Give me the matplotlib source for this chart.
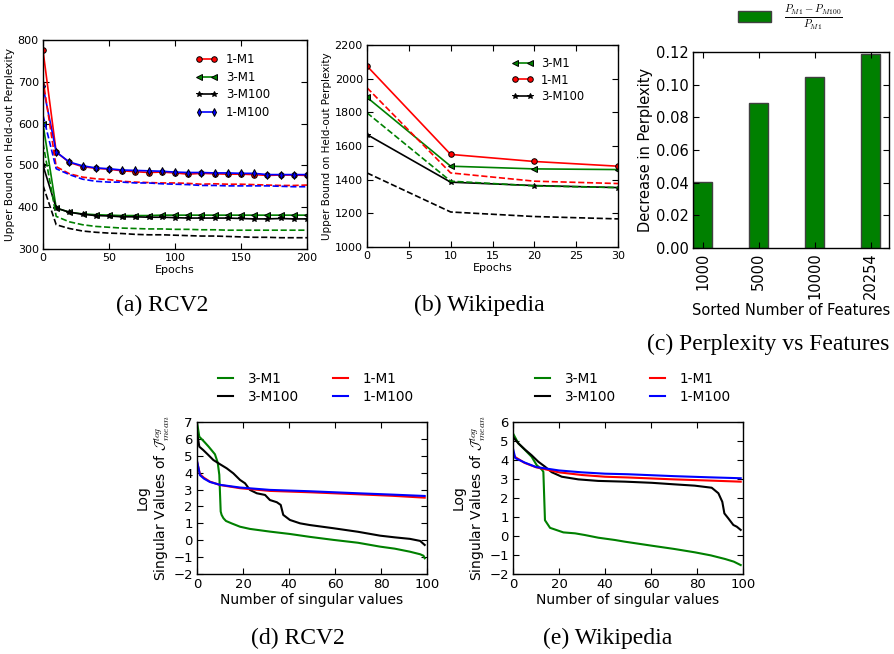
import matplotlib
matplotlib.use("Agg")
import matplotlib.pyplot as plt

# ---- data ----
# (a) RCV2 held-out perplexity vs epochs
rcv_epochs = [0, 10, 20, 30, 40, 50, 60, 70, 80, 90, 100, 110, 120, 130, 140, 150, 160, 170, 180, 190, 200]
rcv_1m1 = [775, 532, 507, 497, 493, 491, 487, 485, 483, 484, 482, 479, 481, 480, 479, 479, 478, 476, 477, 477, 476]
rcv_1m100 = [689, 532, 508, 499, 494, 492, 489, 488, 487, 486, 484, 483, 483, 482, 482, 481, 481, 478, 478, 478, 478]
rcv_3m1 = [599, 398, 388, 384, 382, 381, 380, 380, 380, 381, 381, 381, 381, 381, 381, 381, 381, 381, 381, 381, 381]
rcv_3m100 = [500, 398, 388, 383, 380, 379, 377, 377, 376, 376, 375, 374, 374, 374, 374, 373, 372, 372, 373, 372, 372]
rcv_1m1_d = [705, 497, 480, 472, 468, 466, 462, 460, 459, 458, 458, 457, 455, 456, 455, 455, 454, 453, 452, 452, 453]
rcv_1m100_d = [620, 492, 478, 467, 462, 460, 460, 458, 458, 456, 455, 454, 452, 452, 451, 451, 451, 451, 450, 449, 449]
rcv_3m1_d = [553, 378, 365, 358, 354, 352, 350, 349, 348, 348, 347, 347, 346, 346, 345, 345, 345, 345, 345, 345, 345]
rcv_3m100_d = [452, 358, 349, 343, 340, 338, 337, 335, 334, 334, 333, 332, 331, 331, 330, 329, 328, 328, 327, 327, 327]

# (b) Wikipedia held-out perplexity vs epochs
wiki_epochs = [0, 10, 20, 30]
wiki_3m1 = [1889, 1480, 1464, 1460]
wiki_1m1 = [2075, 1550, 1508, 1480]
wiki_3m100 = [1668, 1385, 1365, 1353]
wiki_3m1_d = [1797, 1391, 1363, 1353]
wiki_1m1_d = [1946, 1440, 1391, 1377]
wiki_3m100_d = [1440, 1208, 1181, 1167]

# (c) perplexity decrease vs number of features
feat_labels = ["1000", "5000", "10000", "20254"]
feat_decrease = [0.0405, 0.089, 0.1045, 0.119]

# (d) RCV2 log singular values
d_3m1_x = [0, 1, 3, 5, 7.8, 9, 9.7, 10.3, 10.7, 11.5, 12.6, 15, 18.7, 23, 31.7, 40.4, 49, 59.3, 70, 79.6, 86, 92.6, 97, 98.5, 99]
d_3m1_y = [7.0, 6.13, 5.85, 5.55, 5.09, 4.6, 3.87, 1.7, 1.5, 1.3, 1.14, 1.0, 0.8, 0.67, 0.51, 0.37, 0.2, 0.02, -0.15, -0.38, -0.5, -0.68, -0.83, -0.92, -1.07]
d_3m100_x = [0, 1, 2.7, 4.9, 7.1, 10, 12.9, 15.8, 18.7, 20.9, 23, 26, 29.6, 31.7, 34.7, 36.4, 37.5, 40.4, 44.8, 49, 59.3, 70, 79.6, 86, 92.6, 97, 99]
d_3m100_y = [6.4, 5.54, 5.34, 5.05, 4.75, 4.5, 4.26, 3.96, 3.57, 3.37, 2.98, 2.78, 2.68, 2.38, 2.25, 2.09, 1.5, 1.2, 1.0, 0.9, 0.71, 0.5, 0.27, 0.17, 0.08, -0.04, -0.28]
d_1m1_x = [0, 1.3, 3, 5.6, 10, 18.7, 31.7, 49, 70, 85, 99]
d_1m1_y = [4.65, 3.9, 3.7, 3.47, 3.27, 3.08, 2.92, 2.84, 2.72, 2.63, 2.52]
d_1m100_x = [0, 1.3, 3, 5.6, 10, 18.7, 31.7, 49, 70, 85, 99]
d_1m100_y = [4.7, 3.85, 3.65, 3.45, 3.28, 3.12, 2.98, 2.9, 2.78, 2.7, 2.62]

# (e) Wikipedia log singular values
e_3m1_x = [0, 2.3, 5.2, 8.1, 10.3, 12.5, 13.2, 13.9, 16.1, 19, 21.9, 27, 31.3, 37.1, 44.3, 48.7, 60.3, 70, 79.1, 86, 92.2, 96, 99]
e_3m1_y = [5.4, 4.88, 4.53, 4.17, 3.73, 3.5, 3.38, 0.83, 0.43, 0.31, 0.19, 0.14, 0.05, -0.09, -0.21, -0.3, -0.51, -0.68, -0.86, -1.02, -1.21, -1.35, -1.53]
e_3m100_x = [0, 2.3, 5.2, 8.1, 11, 13.9, 16.8, 21.2, 28.4, 37, 48.7, 60.3, 70, 79, 86.4, 89.3, 91, 91.9, 93.6, 95.8, 97.3, 99]
e_3m100_y = [5.21, 4.88, 4.55, 4.25, 3.91, 3.65, 3.36, 3.12, 2.98, 2.9, 2.86, 2.8, 2.72, 2.65, 2.54, 2.25, 1.8, 1.19, 0.93, 0.58, 0.49, 0.32]
e_1m1_x = [0, 1, 5, 10, 20, 30, 40, 50, 70, 85, 99]
e_1m1_y = [4.3, 4.15, 3.85, 3.62, 3.35, 3.21, 3.12, 3.08, 2.98, 2.92, 2.86]
e_1m100_x = [0, 1, 5, 10, 20, 30, 40, 50, 70, 85, 99]
e_1m100_y = [4.6, 4.1, 3.87, 3.63, 3.45, 3.35, 3.28, 3.25, 3.15, 3.09, 3.04]

# ---- old-matplotlib look ----
plt.rcParams["font.family"] = "DejaVu Sans"
plt.rcParams["mathtext.fontset"] = "cm"
plt.rcParams["xtick.direction"] = "in"
plt.rcParams["ytick.direction"] = "in"
plt.rcParams["xtick.top"] = True
plt.rcParams["ytick.right"] = True
plt.rcParams["xtick.major.size"] = 4
plt.rcParams["ytick.major.size"] = 4
plt.rcParams["xtick.major.pad"] = 3
plt.rcParams["ytick.major.pad"] = 3
plt.rcParams["axes.linewidth"] = 1.0
plt.rcParams["legend.numpoints"] = 2

W, H = 894, 654
fig = plt.figure(figsize=(W / 100, H / 100), dpi=100)


def box(l, t, r, b):
    return [l / W, 1 - b / H, (r - l) / W, (b - t) / H]


def figpt(x, y):
    return (x / W, 1 - y / H)


mk = dict(ms=4, mec="k", mew=0.7)

# (a) RCV2
ax1 = fig.add_axes(box(43, 40, 307, 249))
ax1.plot(rcv_epochs, rcv_1m1, "r-", marker="o", lw=1.2, label="1-M1", **mk)
ax1.plot(rcv_epochs, rcv_3m1, "g-", marker="<", lw=1.2, label="3-M1", **mk)
ax1.plot(rcv_epochs, rcv_3m100, "k-", marker="*", lw=1.2, label="3-M100", **mk)
ax1.plot(rcv_epochs, rcv_1m100, "b-", marker="d", lw=1.2, label="1-M100", **mk)
ax1.plot(rcv_epochs, rcv_1m1_d, "r--", lw=1.2)
ax1.plot(rcv_epochs, rcv_1m100_d, "b--", lw=1.2)
ax1.plot(rcv_epochs, rcv_3m1_d, "g--", lw=1.2)
ax1.plot(rcv_epochs, rcv_3m100_d, "k--", lw=1.2)
ax1.set_xlim(0, 200)
ax1.set_ylim(300, 800)
ax1.set_xticks([0, 50, 100, 150, 200])
ax1.tick_params(labelsize=8)
ax1.set_xlabel("Epochs", fontsize=8, labelpad=1)
ax1.set_ylabel("Upper Bound on Held-out Perplexity", fontsize=7.7, labelpad=2)
ax1.legend(loc="upper left", bbox_to_anchor=figpt(187, 45), bbox_transform=fig.transFigure,
           frameon=False, fontsize=8.5, handlelength=1.9, handletextpad=0.7,
           labelspacing=0.38, borderpad=0.2)

# (b) Wikipedia
ax2 = fig.add_axes(box(367, 45, 618, 247))
ax2.plot(wiki_epochs, wiki_3m1, "g-", marker="<", lw=1.2, label="3-M1", **mk)
ax2.plot(wiki_epochs, wiki_1m1, "r-", marker="o", lw=1.2, label="1-M1", **mk)
ax2.plot(wiki_epochs, wiki_3m100, "k-", marker="*", lw=1.2, label="3-M100", **mk)
ax2.plot(wiki_epochs, wiki_3m1_d, "g--", lw=1.2)
ax2.plot(wiki_epochs, wiki_1m1_d, "r--", lw=1.2)
ax2.plot(wiki_epochs, wiki_3m100_d, "k--", lw=1.2)
ax2.set_xlim(0, 30)
ax2.set_ylim(1000, 2200)
ax2.tick_params(labelsize=8)
ax2.set_xlabel("Epochs", fontsize=8, labelpad=1)
ax2.set_ylabel("Upper Bound on Held-out Perplexity", fontsize=7.5, labelpad=2)
ax2.legend(loc="upper left", bbox_to_anchor=figpt(503, 49), bbox_transform=fig.transFigure,
           frameon=False, fontsize=8.3, handlelength=1.9, handletextpad=0.7,
           labelspacing=0.3, borderpad=0.2)

# (c) perplexity vs features
ax3 = fig.add_axes(box(693, 52, 889, 248))
pos = list(range(len(feat_labels)))
ax3.bar(pos, feat_decrease, width=0.34, color=(0, 0.5, 0), edgecolor="0.25", lw=1,
        label=r"$\frac{P_{M1}-P_{M100}}{P_{M1}}$")
ax3.set_xticks(pos)
ax3.set_xticklabels(feat_labels, rotation=90)
ax3.set_xlim(-0.17, 3.33)
ax3.set_ylim(0, 0.12)
ax3.set_yticks([0, 0.02, 0.04, 0.06, 0.08, 0.10, 0.12])
ax3.set_yticklabels(["0.00", "0.02", "0.04", "0.06", "0.08", "0.10", "0.12"])
ax3.tick_params(labelsize=10.5)
ax3.set_xlabel("Sorted Number of Features", fontsize=10.5, labelpad=3)
ax3.set_ylabel("Decrease in Perplexity", fontsize=10.5, labelpad=2)
ax3.legend(loc="center", bbox_to_anchor=figpt(790, 18), bbox_transform=fig.transFigure,
           frameon=False, fontsize=11, handlelength=2.2, handleheight=0.7)

# (d) RCV2 singular values
ylab = "Log\nSingular Values of $\\mathcal{J}^{log}_{mean}$"
ax4 = fig.add_axes(box(197, 422, 427, 574))
ax4.plot(d_3m1_x, d_3m1_y, color="g", lw=1.5, label="3-M1")
ax4.plot(d_3m100_x, d_3m100_y, color="k", lw=1.5, label="3-M100")
ax4.plot(d_1m1_x, d_1m1_y, color="r", lw=1.5, label="1-M1")
ax4.plot(d_1m100_x, d_1m100_y, color="b", lw=1.5, label="1-M100")
ax4.set_xlim(0, 100)
ax4.set_ylim(-2, 7)
ax4.set_yticks(range(-2, 8))
ax4.tick_params(labelsize=9.5)
ax4.set_xlabel("Number of singular values", fontsize=10, labelpad=1)
ax4.set_ylabel(ylab, fontsize=10, labelpad=1)
ax4.legend(loc="center", bbox_to_anchor=figpt(314, 388), bbox_transform=fig.transFigure,
           ncol=2, frameon=False, fontsize=9.8, handlelength=1.7, columnspacing=2.2,
           labelspacing=0.3)

# (e) Wikipedia singular values
ax5 = fig.add_axes(box(513, 422, 743, 574))
ax5.plot(e_3m1_x, e_3m1_y, color="g", lw=1.5, label="3-M1")
ax5.plot(e_3m100_x, e_3m100_y, color="k", lw=1.5, label="3-M100")
ax5.plot(e_1m1_x, e_1m1_y, color="r", lw=1.5, label="1-M1")
ax5.plot(e_1m100_x, e_1m100_y, color="b", lw=1.5, label="1-M100")
ax5.set_xlim(0, 100)
ax5.set_ylim(-2, 6)
ax5.set_yticks(range(-2, 7))
ax5.tick_params(labelsize=9.5)
ax5.set_xlabel("Number of singular values", fontsize=10, labelpad=1)
ax5.set_ylabel(ylab, fontsize=10, labelpad=1)
ax5.legend(loc="center", bbox_to_anchor=figpt(631, 388), bbox_transform=fig.transFigure,
           ncol=2, frameon=False, fontsize=9.8, handlelength=1.7, columnspacing=2.2,
           labelspacing=0.3)

# captions
cap = dict(family="Liberation Serif", fontsize=17, ha="center", va="center")
fig.text(*figpt(162, 305), "(a) RCV2", **cap)
fig.text(*figpt(479, 305), "(b) Wikipedia", **cap)
fig.text(*figpt(768, 344), "(c) Perplexity vs Features", **cap)
fig.text(*figpt(298, 638), "(d) RCV2", **cap)
fig.text(*figpt(608, 638), "(e) Wikipedia", **cap)

fig.savefig("out.png", dpi=100)
